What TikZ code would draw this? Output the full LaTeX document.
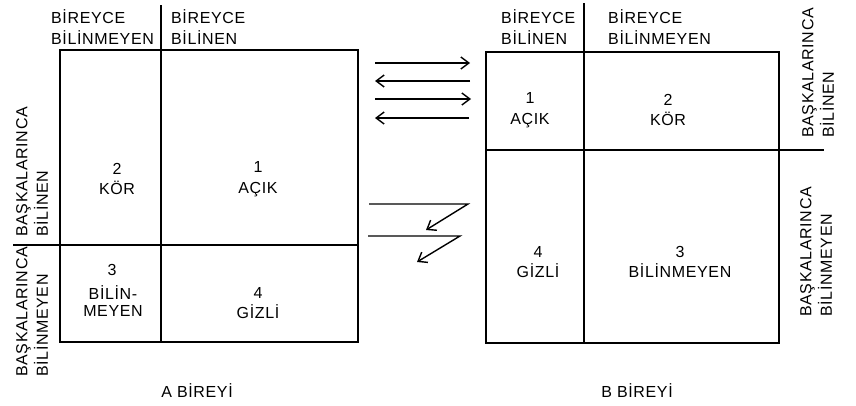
\documentclass[tikz,border=0pt]{standalone}
\usepackage{fontspec}
\setmainfont{Liberation Sans}[LetterSpace=4]
\usetikzlibrary{arrows.meta}
\begin{document}
\begin{tikzpicture}[x=1pt,y=-1pt,
  ln/.style={line width=1.5pt},
  arr/.style={line width=1.4pt,-{Straight Barb[length=8pt,width=12pt,line width=1.4pt]}},
  lbl/.style={font=\fontsize{16}{20.5}\selectfont,inner sep=0pt},
  cell/.style={lbl,align=center},
  hdr/.style={lbl,align=left,anchor=west},
  side/.style={lbl,align=left,anchor=west,rotate=90}]
\useasboundingbox (0,0) rectangle (856,405);
% ---- A grid
\draw[ln] (60,50) rectangle (358,342);
\draw[ln] (161,5) -- (161,342);
\draw[ln] (13,245) -- (358,245);
% ---- B grid
\draw[ln] (486,52) rectangle (779,343);
\draw[ln] (584,3) -- (584,343);
\draw[ln] (486,150) -- (824,150);
% ---- A labels
\node[hdr] (ah1) at (51,27) {BİREYCE\\BİLİNMEYEN};
\node[hdr] (ah2) at (171,27) {BİREYCE\\BİLİNEN};
\node[side] (as1) at (32,237) {BAŞKALARINCA\\BİLİNEN};
\node[side] (as2) at (32,377) {BAŞKALARINCA\\BİLİNMEYEN};
\node[cell] (a2) at (117,179) {2\\KÖR};
\node[cell] (a1) at (258,179) {1\\AÇIK};
\node[lbl] (a3n) at (112,270) {3};
\node[cell,font=\fontsize{16}{16.5}\selectfont] (a3) at (113,301) {BİLİN-\\MEYEN};
\node[cell] (a4) at (258,303) {4\\GİZLİ};
\node[lbl] (an) at (197,391) {A BİREYİ};
% ---- B labels
\node[hdr] (bh1) at (501,27) {BİREYCE\\BİLİNEN};
\node[hdr] (bh2) at (608,27) {BİREYCE\\BİLİNMEYEN};
\node[side] (bs1) at (818,138) {BAŞKALARINCA\\BİLİNEN};
\node[side] (bs2) at (816,317) {BAŞKALARINCA\\BİLİNMEYEN};
\node[cell] (b1) at (530,110) {1\\AÇIK};
\node[cell] (b2) at (668,110) {2\\KÖR};
\node[cell] (b4) at (538,262) {4\\GİZLİ};
\node[cell] (b3) at (680,262) {3\\BİLİNMEYEN};
\node[lbl] (bn) at (637,391) {B BİREYİ};
% ---- arrows
\coordinate (p1) at (375,63);  \coordinate (q1) at (470,63);
\coordinate (p2) at (470,81);  \coordinate (q2) at (375,81);
\coordinate (p3) at (375,99);  \coordinate (q3) at (471,99);
\coordinate (p4) at (469,118); \coordinate (q4) at (375,118);
\draw[arr] (p1) -- (q1);
\draw[arr] (p2) -- (q2);
\draw[arr] (p3) -- (q3);
\draw[arr] (p4) -- (q4);
\coordinate (z1a) at (369,204); \coordinate (z1b) at (468,204); \coordinate (z1c) at (426,230);
\coordinate (z2a) at (368,236); \coordinate (z2b) at (460,236); \coordinate (z2c) at (417,262);
\draw[arr] (z1a) -- (z1b) -- (z1c);
\draw[arr] (z2a) -- (z2b) -- (z2c);
\end{tikzpicture}
\end{document}
